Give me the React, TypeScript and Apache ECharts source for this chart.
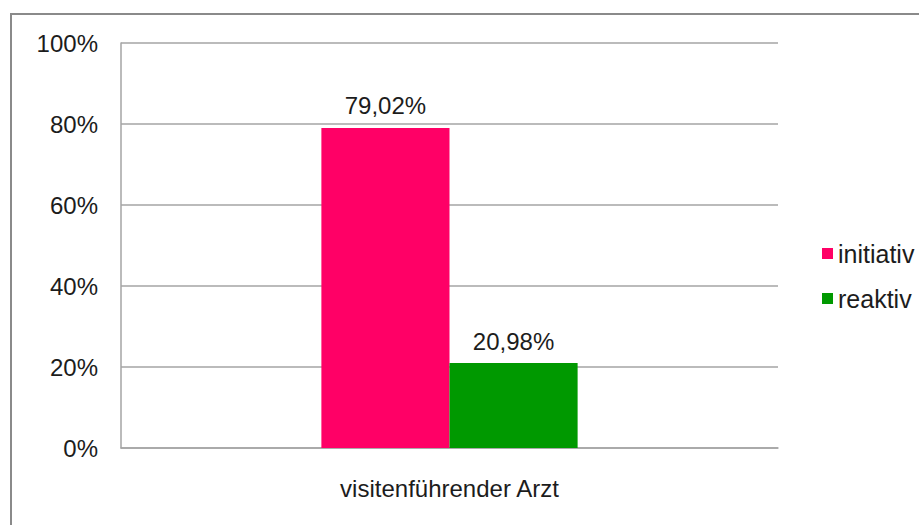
import React, { useEffect, useRef } from "react";
import * as echarts from "echarts";

const categories = ["visitenführender Arzt"];
const seriesNames = ["initiativ", "reaktiv"];
const initiativValues = [79.02];
const reaktivValues = [20.98];
const seriesColors = ["#FF0066", "#009900"];

const FONT = "'Liberation Sans', Arial, sans-serif";
const TEXT = "#1c1c1c";
const GRID = "#a5a5a5";

function fmt(v: number) {
  return v.toFixed(2).replace(".", ",") + "%";
}

export default function App() {
  const ref = useRef<HTMLDivElement>(null);
  useEffect(() => {
    if (!ref.current) return;
    const chart = echarts.init(ref.current, undefined, { renderer: "svg" });
    const dataSets = [initiativValues, reaktivValues];
    chart.setOption({
      animation: false,
      backgroundColor: "#ffffff",
      textStyle: { fontFamily: FONT },
      graphic: [
        {
          type: "rect",
          shape: { x: 11, y: 14, width: 960, height: 560 },
          style: { fill: "none", stroke: "#8a8a8a", lineWidth: 2 },
          silent: true,
        },
      ],
      grid: { left: 121, right: 141, top: 43, bottom: 77, containLabel: false },
      legend: {
        orient: "vertical",
        left: 817,
        top: 236,
        itemWidth: 11,
        itemHeight: 11,
        itemGap: 20,
        icon: "rect",
        textStyle: { fontSize: 25, color: TEXT, fontFamily: FONT },
        data: seriesNames,
      },
      xAxis: {
        type: "category",
        data: categories,
        axisLine: { show: true, lineStyle: { color: GRID, width: 1.5 } },
        axisTick: { show: false },
        axisLabel: { fontSize: 24, color: TEXT, margin: 28, fontFamily: FONT },
      },
      yAxis: {
        type: "value",
        min: 0,
        max: 100,
        interval: 20,
        axisLine: { show: true, lineStyle: { color: GRID, width: 1.5 } },
        axisTick: { show: false },
        splitLine: { show: true, lineStyle: { color: GRID, width: 1.5 } },
        axisLabel: {
          fontSize: 24,
          color: TEXT,
          margin: 23,
          fontFamily: FONT,
          formatter: "{value}%",
        },
      },
      series: seriesNames.map((name, i) => ({
        name,
        type: "bar",
        data: dataSets[i],
        barGap: "0%",
        barCategoryGap: "61%",
        itemStyle: { color: seriesColors[i] },
        label: {
          show: true,
          position: "top",
          distance: 10,
          fontSize: 24,
          color: TEXT,
          fontFamily: FONT,
          formatter: (p: any) => fmt(p.value),
        },
      })),
    });
    return () => chart.dispose();
  }, []);
  return (
    <div
      ref={ref}
      style={{ position: "fixed", left: 0, top: 0, width: 919, height: 525 }}
    />
  );
}
